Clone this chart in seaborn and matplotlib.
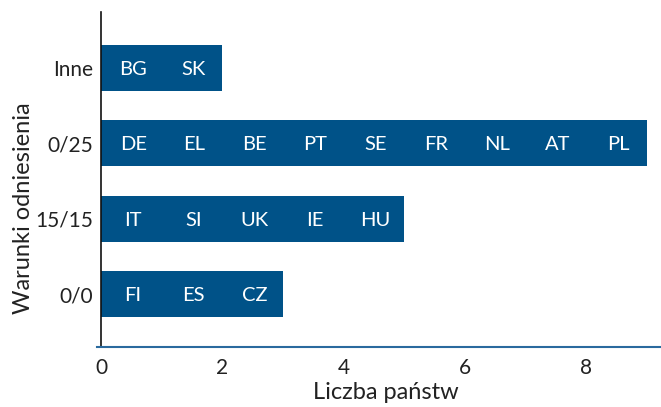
import matplotlib
matplotlib.use("Agg")
import matplotlib.pyplot as plt
import seaborn as sns
import pandas as pd

categories = ["Inne", "0/25", "15/15", "0/0"]
counts = [2, 9, 5, 3]
countries = [
    ["BG", "SK"],
    ["DE", "EL", "BE", "PT", "SE", "FR", "NL", "AT", "PL"],
    ["IT", "SI", "UK", "IE", "HU"],
    ["FI", "ES", "CZ"],
]
x_ticks = [0, 2, 4, 6, 8]

sns.set_theme(style="white")
plt.rcParams["font.family"] = ["Lato", "DejaVu Sans"]

df = pd.DataFrame({"cat": categories, "n": counts})

fig = plt.figure(figsize=(6.61, 4.07), dpi=100)
ax = fig.add_axes([97 / 661, 1 - 347 / 407, 563 / 661, 335 / 407])

bar_color = "#005288"
sns.barplot(data=df, y="cat", x="n", order=categories, color=bar_color,
            orient="h", width=0.61, saturation=1, ax=ax, edgecolor="none")

for i, lst in enumerate(countries):
    for j, c in enumerate(lst):
        ax.text(j + 0.53, i + 0.02, c, color="white", ha="center", va="center",
                fontsize=14.5)

ax.set_xlim(-0.066, 9.22)
ax.set_ylim(3.70, -0.74)
ax.set_xticks(x_ticks)
ax.set_xticklabels([str(t) for t in x_ticks], fontsize=15, color="#222222")
ax.tick_params(axis="x", direction="out", length=5, width=1.2,
               colors="#2a6a9e", labelcolor="#222222", pad=3)
ax.tick_params(axis="y", length=0, labelsize=15, labelcolor="#222222", pad=6)

for s in ["top", "right"]:
    ax.spines[s].set_visible(False)
ax.spines["left"].set_position(("data", 0))
ax.spines["left"].set_color("#111111")
ax.spines["left"].set_linewidth(1.2)
ax.spines["bottom"].set_color("#2a6a9e")
ax.spines["bottom"].set_linewidth(1.5)

ax.set_xlabel("Liczba państw", fontsize=17, color="#222222")
ax.xaxis.set_label_coords(0.513, -0.105)
ax.set_ylabel("Warunki odniesienia", fontsize=17, color="#222222")
ax.yaxis.set_label_coords(-0.112, 0.415)

fig.savefig("out.png", dpi=100)
